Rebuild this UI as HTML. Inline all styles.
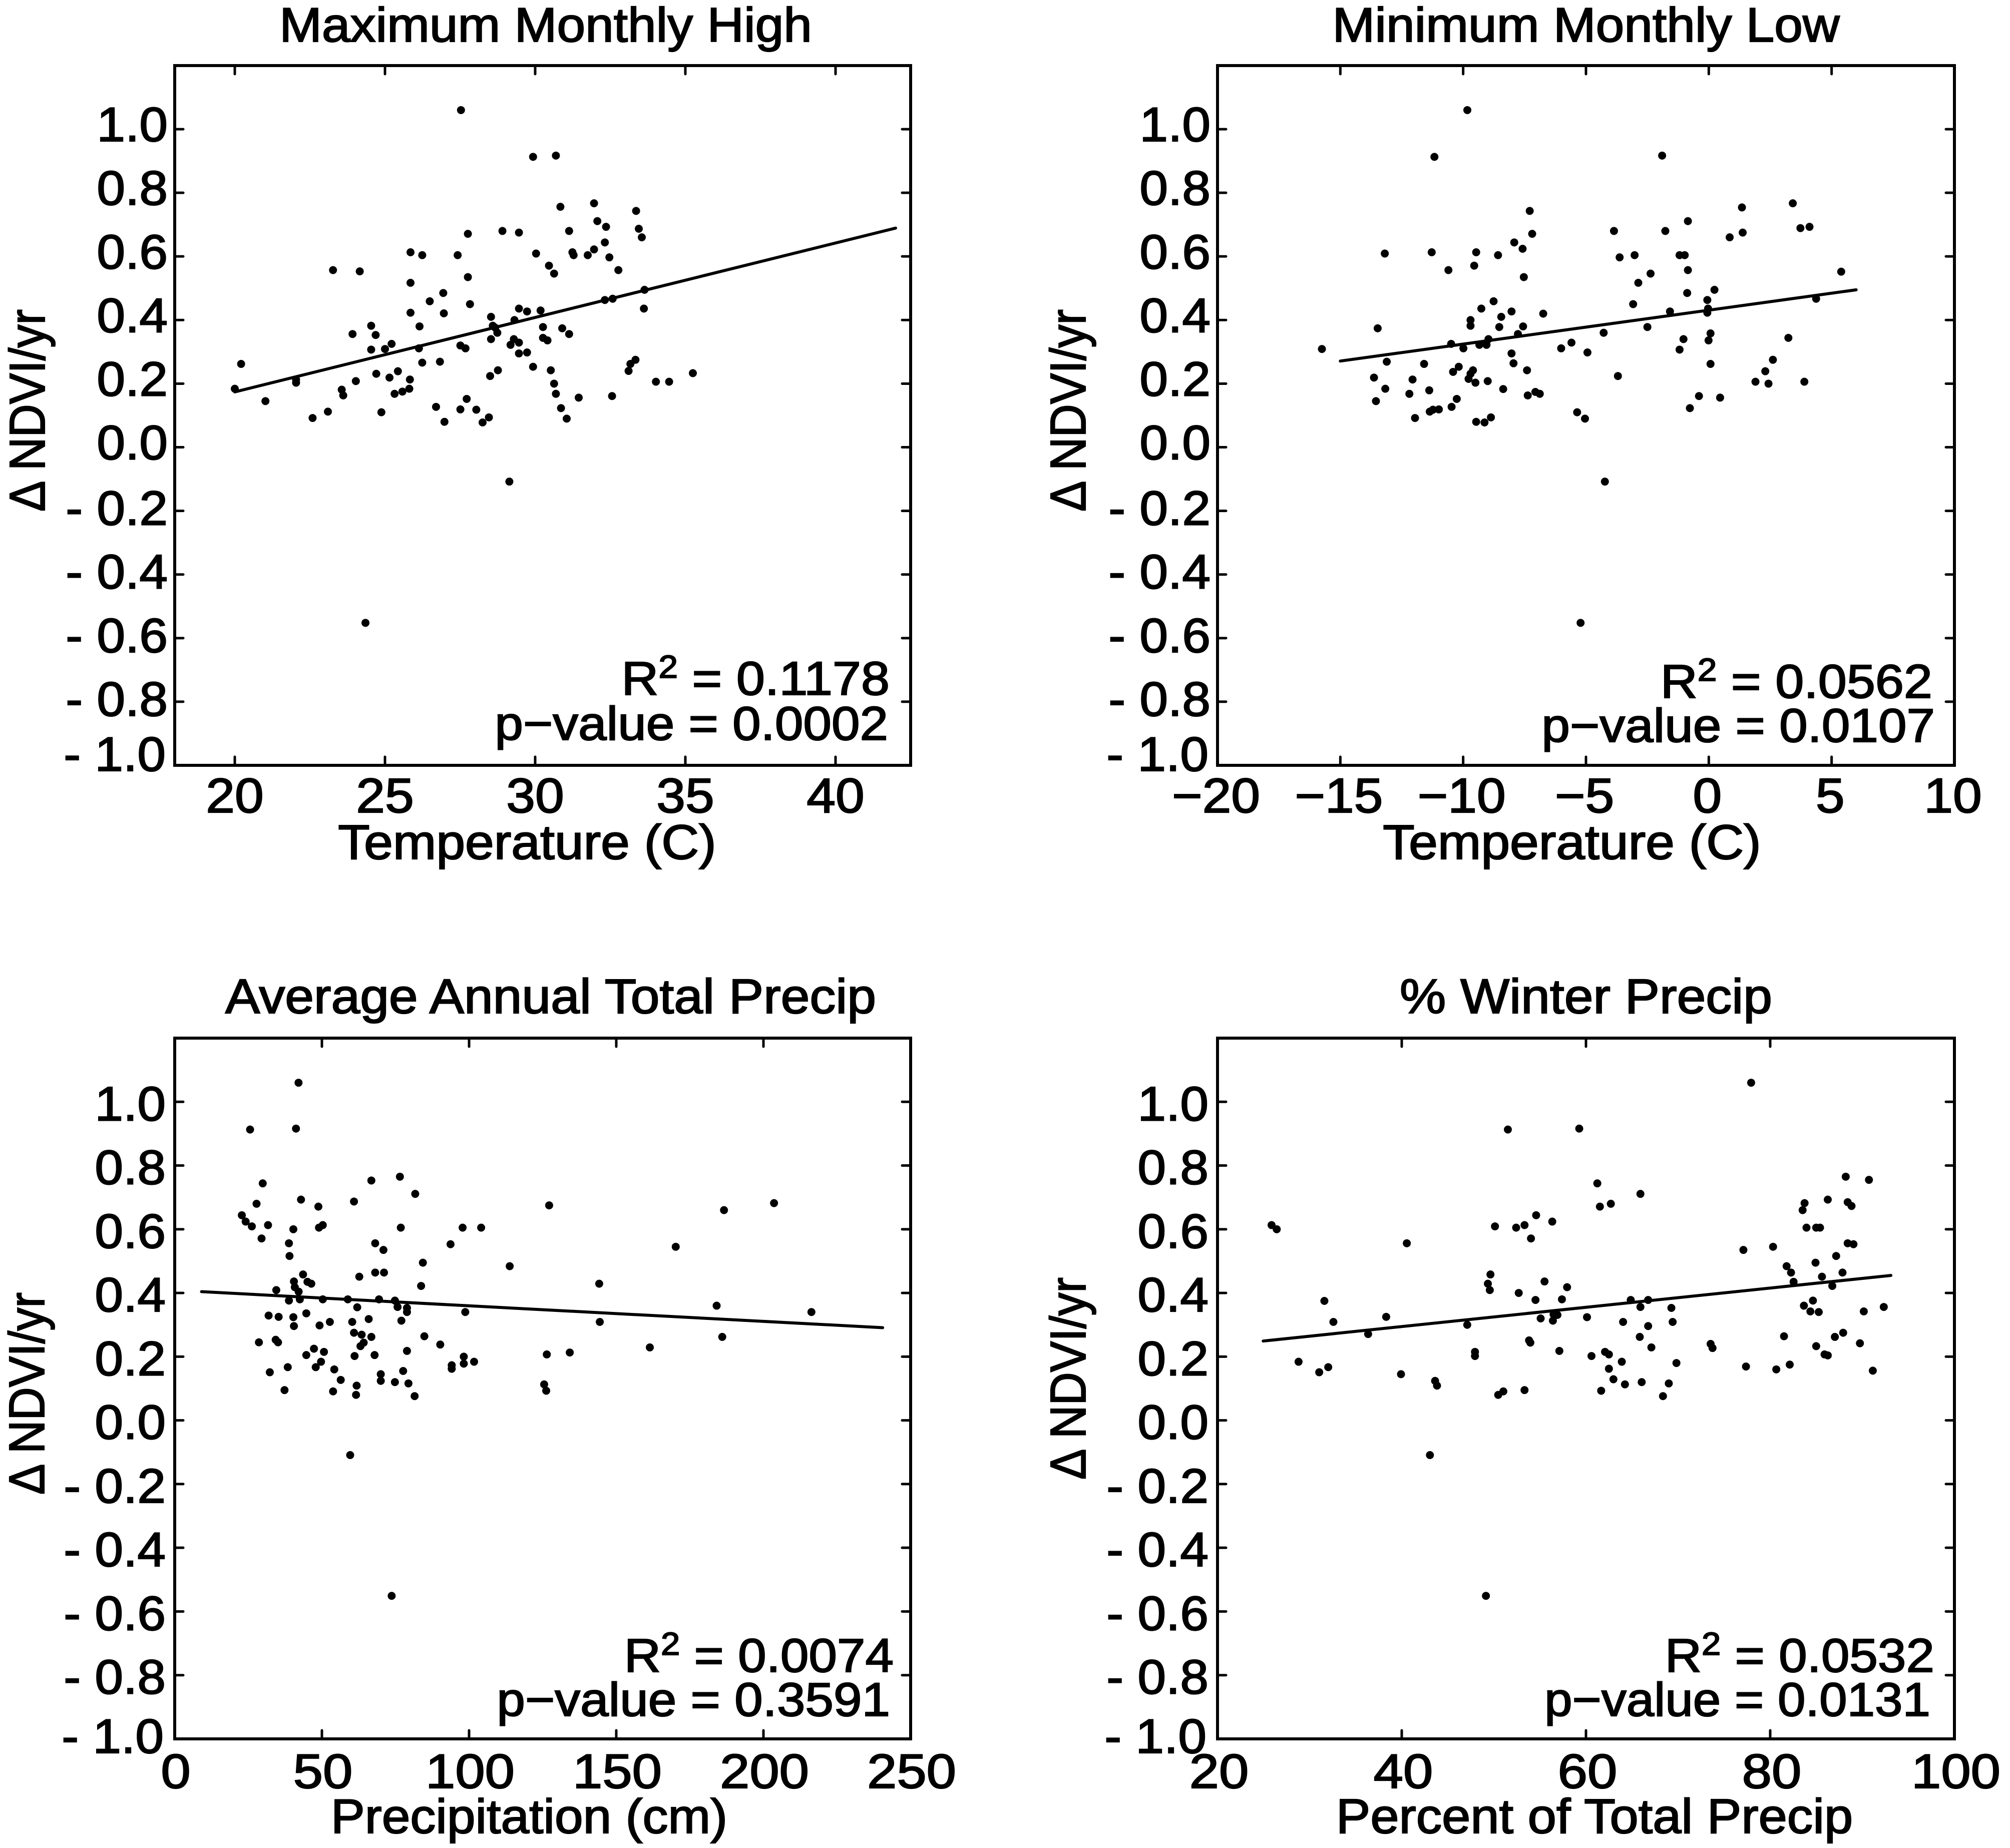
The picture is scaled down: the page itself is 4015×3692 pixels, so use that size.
<!DOCTYPE html>
<html lang="en">
<head>
<meta charset="utf-8">
<title>Change in NDVI versus climate variables</title>
<style>
html,body{margin:0;padding:0;background:#fff;}
svg{display:block;}
text{font-family:"Liberation Sans",Arial,sans-serif;fill:#000;stroke:#000;stroke-width:2.2px;}
</style>
</head>
<body>
<svg id="fig" xmlns="http://www.w3.org/2000/svg" width="4015" height="3692" viewBox="0 0 4015 3692">
<rect x="0" y="0" width="4015" height="3692" fill="#fff"/>

<text font-size="97" text-anchor="middle" transform="translate(1090,83) scale(1.05,1)">Maximum Monthly High</text>
<text font-size="97" text-anchor="middle" transform="translate(3168,83) scale(1.05,1)">Minimum Monthly Low</text>
<text font-size="97" text-anchor="middle" transform="translate(1100,2024) scale(1.07,1)">Average Annual Total Precip</text>
<text font-size="97" text-anchor="middle" transform="translate(3168,2024) scale(1.07,1)">% Winter Precip</text>

<text font-size="97" text-anchor="middle" transform="translate(1053,1716) scale(1.07,1)">Temperature (C)</text>
<text font-size="97" text-anchor="middle" transform="translate(3140,1716) scale(1.07,1)">Temperature (C)</text>
<text font-size="97" text-anchor="middle" transform="translate(1057,3662) scale(1.05,1)">Precipitation (cm)</text>
<text font-size="97" text-anchor="middle" transform="translate(3185,3662) scale(1.06,1)">Percent of Total Precip</text>

<text font-size="100" text-anchor="middle" transform="translate(89,820) rotate(-90) scale(0.92,1)">Δ NDVI/yr</text>
<text font-size="100" text-anchor="middle" transform="translate(2168,820) rotate(-90) scale(0.92,1)">Δ NDVI/yr</text>
<text font-size="100" text-anchor="middle" transform="translate(88,2784) rotate(-90) scale(0.92,1)">Δ NDVI/yr</text>
<text font-size="100" text-anchor="middle" transform="translate(2168,2754) rotate(-90) scale(0.92,1)">Δ NDVI/yr</text>

<text font-size="95" text-anchor="end" transform="translate(1777,1388) scale(1.08,1)">R<tspan font-size="64" dy="-34">2</tspan><tspan dy="34"> = 0.1178</tspan></text>
<text font-size="95" text-anchor="end" transform="translate(1774,1478) scale(1.07,1)">p−value = 0.0002</text>
<text font-size="95" text-anchor="end" transform="translate(3860,1394) scale(1.08,1)">R<tspan font-size="64" dy="-34">2</tspan><tspan dy="34"> = 0.0562</tspan></text>
<text font-size="95" text-anchor="end" transform="translate(3865,1482) scale(1.07,1)">p−value = 0.0107</text>
<text font-size="95" text-anchor="end" transform="translate(1785,3340) scale(1.07,1)">R<tspan font-size="64" dy="-34">2</tspan><tspan dy="34"> = 0.0074</tspan></text>
<text font-size="95" text-anchor="end" transform="translate(1778,3428) scale(1.07,1)">p−value = 0.3591</text>
<text font-size="95" text-anchor="end" transform="translate(3864,3340) scale(1.07,1)">R<tspan font-size="64" dy="-34">2</tspan><tspan dy="34"> = 0.0532</tspan></text>
<text font-size="95" text-anchor="end" transform="translate(3856,3428) scale(1.05,1)">p−value = 0.0131</text>
</svg>

<script>
var yTickValues = [1.0,0.8,0.6,0.4,0.2,0.0,-0.2,-0.4,-0.6,-0.8,-1.0];
var yTickLabels = ["1.0","0.8","0.6","0.4","0.2","0.0","- 0.2","- 0.4","- 0.6","- 0.8","- 1.0"];

var maxTempTicks = [20,25,30,35,40];
var maxTempTickLabels = ["20","25","30","35","40"];
var minTempTicks = [-20,-15,-10,-5,0,5,10];
var minTempTickLabels = ["−20","−15","−10","−5","0","5","10"];
var precipTicks = [0,50,100,150,200,250];
var precipTickLabels = ["0","50","100","150","200","250"];
var winterTicks = [20,40,60,80,100];
var winterTickLabels = ["20","40","60","80","100"];

var maxTempFitX = [20,42];
var maxTempFitY = [0.174,0.689];
var minTempFitX = [-15,6];
var minTempFitY = [0.271,0.495];
var precipFitX = [9.1,240.5];
var precipFitY = [0.404,0.291];
var winterFitX = [24.96,93.1];
var winterFitY = [0.249,0.455];

var maxTempX = [27.53,29.93,30.69,30.84,31.96,33.36,32.07,32.36,33.45,31.13,28.91,29.46,27.76,33.55,32.32,31.96,25.85,31.24,30.03,26.24,27.42,31.28,31.75,32.47,30.46,32.77,23.27,24.16,30.63,27.76,25.85,33.64,26.94,32.32,32.58,26.49,27.83,33.62,29.46,29.73,30.18,25.85,26.96,28.53,29.31,24.54,26.15,28.59,28.67,30.26,30.9,23.92,31.13,28.74,24.69,28.53,30.26,30.41,29.29,25.22,29.46,29.18,27.51,27.68,26.13,25.0,24.54,29.46,29.73,29.93,33.34,33.17,20.21,26.24,26.83,33.11,30.52,28.76,35.25,25.43,24.71,28.5,25.15,25.83,22.04,22.04,24.03,34.02,34.46,30.63,20.0,23.56,25.81,25.58,25.32,30.69,23.61,32.56,31.45,27.72,21.02,30.86,26.7,27.51,28.04,23.1,24.88,22.59,28.46,31.05,26.98,28.25,29.14,24.35];
var maxTempY = [1.06,.913,.917,.756,.767,.743,.711,.693,.687,.68,.68,.675,.671,.66,.644,.622,.613,.613,.609,.604,.604,.604,.604,.597,.571,.557,.557,.553,.546,.535,.517,.495,.485,.463,.467,.459,.45,.436,.436,.427,.43,.423,.421,.41,.40,.382,.38,.382,.376,.378,.374,.356,.356,.36,.353,.34,.344,.336,.34,.325,.329,.322,.32,.311,.311,.309,.307,.295,.298,.253,.275,.262,.262,.266,.269,.24,.242,.242,.233,.239,.231,.224,.219,.213,.213,.203,.208,.206,.206,.2,.184,.181,.184,.175,.168,.168,.163,.161,.156,.152,.145,.123,.127,.119,.118,.112,.11,.092,.094,.09,.08,.078,-.108,-.552];

var minTempX = [-9.83,-11.17,-1.9,-7.29,3.42,1.35,-.85,4.1,3.73,-3.86,-1.77,1.38,-7.19,.85,-7.92,-7.58,-13.19,-11.28,-9.47,-8.58,-3.02,-1.19,-.98,-3.63,-9.55,-10.6,-.85,5.39,-2.37,-7.53,-2.87,.23,-.88,4.37,-.06,-8.76,-3.08,-9.26,-.03,-8.03,-1.58,-.06,-6.74,-8.45,-9.7,-9.7,-13.48,-8.53,-7.56,-2.5,-4.28,-7.77,.07,-1.03,-.01,3.24,-8.97,-10.49,-5.59,-9.34,-9.05,-9.99,-6.01,-1.19,-15.75,-4.94,-8.03,2.61,-13.11,-11.59,-7.95,.07,-10.18,-7.4,-9.6,2.3,-10.41,-9.7,-3.7,-13.63,-9.78,-12.06,-9.0,1.9,3.89,-9.5,2.43,-8.37,-13.17,-11.38,-7.06,-12.19,-6.88,-7.37,-.4,.46,-10.26,-13.55,-.77,-10.47,-10.99,-11.23,-11.36,-5.36,-11.96,-5.04,-8.87,-9.47,-9.13,-4.23,-5.22];
var minTempY = [1.06,.913,.917,.743,.767,.754,.711,.693,.689,.68,.68,.675,.671,.66,.644,.624,.609,.613,.613,.604,.604,.604,.604,.597,.571,.557,.557,.552,.546,.535,.517,.495,.485,.467,.463,.459,.45,.436,.436,.427,.427,.423,.42,.41,.40,.382,.374,.378,.38,.378,.36,.356,.358,.34,.336,.344,.34,.325,.329,.322,.322,.311,.311,.307,.309,.298,.295,.275,.269,.262,.264,.262,.253,.242,.242,.239,.237,.231,.224,.219,.215,.213,.208,.206,.206,.203,.2,.183,.184,.179,.174,.168,.168,.163,.161,.156,.152,.145,.123,.127,.119,.118,.112,.11,.092,.09,.094,.08,.078,-.108,-.552];

var precipX = [42.06,25.6,41.2,29.9,76.5,66.8,81.7,42.9,60.9,27.8,127.2,203.6,48.8,186.6,22.8,24.1,26.2,31.7,50.3,49,40.3,76.8,97.8,104.1,29.5,38.8,68.1,93.7,170.2,70.9,39,84.3,113.8,43.6,68.1,71.1,62.7,40.5,45.1,46.4,144.2,40.8,83.7,34.5,42.1,42.5,38.8,50.3,58.8,69.4,74.8,184.1,75.7,62,78.9,78.9,98.7,216.3,44.7,31.9,35.3,40.3,65.9,77,52.7,60.3,144.4,49.2,40.5,60.9,63.5,84.8,186,66.8,34.3,35.1,28.6,64.2,63.1,90.2,161.4,47.3,50.7,78.9,134.2,126.4,44.7,61.1,67.9,98.2,101.7,98.2,49.7,94.1,94.1,47.9,38.4,54.2,77.6,32.3,70,56.4,70,74.8,79.4,125.5,61.8,37.3,53.8,126.2,61.6,81.5,59.6,73.7];
var precipY = [1.06,.913,.916,.744,.765,.753,.711,.693,.687,.68,.675,.682,.671,.66,.644,.624,.609,.613,.613,.605,.6,.605,.605,.605,.571,.556,.556,.553,.545,.535,.516,.495,.484,.458,.464,.464,.451,.436,.435,.429,.429,.418,.422,.409,.404,.38,.376,.38,.38,.38,.376,.36,.356,.355,.353,.34,.34,.34,.336,.329,.325,.324,.318,.313,.309,.309,.309,.298,.296,.275,.269,.264,.262,.262,.253,.245,.245,.244,.233,.238,.229,.225,.215,.218,.213,.207,.205,.202,.205,.2,.184,.178,.184,.173,.162,.167,.167,.16,.155,.151,.145,.127,.124,.12,.116,.113,.109,.095,.091,.093,.08,.076,-.109,-.551];

var winterX = [77.93,51.52,59.27,61.23,88.2,90.72,65.91,86.25,62.7,83.73,88.41,61.51,88.83,83.52,54.59,56.34,25.87,26.43,53.33,52.42,50.12,83.94,84.99,85.41,54.03,40.55,88.41,89.04,80.31,77.09,87.16,84.92,81.78,82.26,87.85,49.63,85.62,55.5,82.54,49.35,86.74,57.95,49.56,52.7,54.52,57.39,64.86,66.75,84.64,31.6,92.33,83.66,65.91,69.27,84.36,85.27,90.16,56.9,56.48,38.31,55.08,60.11,56.41,64.03,32.58,69.41,66.75,47.11,36.35,87.92,65.84,81.5,87.02,53.82,53.96,89.74,73.53,73.74,84.99,67.1,57.11,47.95,62.07,62.49,60.6,47.95,85.9,86.25,63.89,28.8,69.82,77.37,82.12,32.02,62.49,80.66,91.14,31.04,39.92,62.98,43.62,66.05,68.99,64.23,43.83,51.03,53.33,61.65,50.47,68.36,43.06,49.14];
var winterY = [1.06,.913,.916,.744,.765,.755,.711,.693,.68,.682,.685,.671,.673,.66,.644,.624,.613,.6,.613,.605,.609,.605,.605,.605,.571,.556,.556,.553,.545,.535,.516,.495,.484,.464,.464,.458,.451,.436,.435,.429,.422,.418,.409,.4,.378,.38,.378,.378,.376,.375,.356,.36,.356,.353,.342,.34,.342,.331,.333,.325,.32,.324,.313,.309,.309,.309,.296,.3,.271,.275,.262,.264,.262,.251,.244,.242,.24,.227,.233,.229,.218,.215,.215,.207,.202,.202,.207,.204,.184,.184,.18,.169,.175,.167,.162,.16,.156,.151,.145,.129,.124,.12,.116,.113,.109,.091,.095,.093,.08,.076,-.109,-.551];

var svg = document.getElementById('fig');
var NS = 'http://www.w3.org/2000/svg';
var dotRadius = 8;
var frameWidth = 6;
var tickLength = 17;

function scaleLinear(d0, d1, r0, r1) {
  return function (v) { return r0 + (v - d0) * (r1 - r0) / (d1 - d0); };
}
function make(tag, attrs) {
  var el = document.createElementNS(NS, tag);
  for (var k in attrs) { el.setAttribute(k, attrs[k]); }
  return el;
}
function drawPanel(p) {
  var sx = scaleLinear(p.xMin, p.xMax, p.left, p.right);
  var sy = scaleLinear(-1.0, 1.2, p.bottom, p.top);
  var g = make('g', {});
  
  
  svg.appendChild(g);

  yTickValues.forEach(function (v, i) {
    var y = sy(v);
    var a = make('line', {x1: p.left, x2: p.left + tickLength, y1: y, y2: y, stroke: '#000', 'stroke-width': 5, 'stroke-linecap': 'round'});
    
    
    g.appendChild(a);
    var b = make('line', {x1: p.right, x2: p.right - tickLength, y1: y, y2: y, stroke: '#000', 'stroke-width': 5, 'stroke-linecap': 'round'});
    
    
    g.appendChild(b);
    var dy = v > -0.05 ? p.labelPos : (v > -0.9 ? p.labelNeg : p.labelEnd);
    var t = make('text', {'font-size': 97, 'text-anchor': 'end', transform: 'translate(' + (p.left + p.yLabelGap - (v < -0.9 ? 4 : 0)) + ',' + (y + dy) + ') scale(1.05,1)'});
    
    
    t.setAttribute('xml:space', 'preserve');
    t.style.whiteSpace = 'pre';
    t.textContent = yTickLabels[i];
    g.appendChild(t);
  });

  p.ticks.forEach(function (v, i) {
    var x = sx(v);
    var a = make('line', {x1: x, x2: x, y1: p.bottom, y2: p.bottom - tickLength, stroke: '#000', 'stroke-width': 5, 'stroke-linecap': 'round'});
    
    
    g.appendChild(a);
    var b = make('line', {x1: x, x2: x, y1: p.top, y2: p.top + tickLength, stroke: '#000', 'stroke-width': 5, 'stroke-linecap': 'round'});
    
    
    g.appendChild(b);
    var t = make('text', {'font-size': 97, 'text-anchor': 'middle', transform: 'translate(' + (x + p.xLabelShift) + ',' + p.xLabelY + ') scale(' + p.xLabelStretch + ',1)'});
    
    
    t.textContent = p.tickLabels[i];
    g.appendChild(t);
  });

  var frame = make('rect', {x: p.left, y: p.top, width: p.right - p.left, height: p.bottom - p.top, fill: 'none', stroke: '#000', 'stroke-width': frameWidth});
  
  
  g.appendChild(frame);

  var fit = make('line', {x1: sx(p.fitX[0]), x2: sx(p.fitX[1]), y1: sy(p.fitY[0]), y2: sy(p.fitY[1]), stroke: '#000', 'stroke-width': 6, 'stroke-linecap': 'round'});
  
  
  g.appendChild(fit);

  p.xs.forEach(function (v, i) {
    var c = make('circle', {cx: sx(v), cy: sy(p.ys[i]), r: dotRadius, fill: '#000'});
    
    
    g.appendChild(c);
  });
}

drawPanel({name: 'max-monthly-high', left: 349, right: 1819, top: 131, bottom: 1529, xMin: 18, xMax: 42.5, ticks: maxTempTicks, tickLabels: maxTempTickLabels, xs: maxTempX, ys: maxTempY, fitX: maxTempFitX, fitY: maxTempFitY, yLabelGap: -14, labelPos: 24, labelNeg: 28, labelEnd: 11, xLabelY: 1623, xLabelShift: 0, xLabelStretch: 1.07});
drawPanel({name: 'min-monthly-low', left: 2432, right: 3904, top: 131, bottom: 1529, xMin: -20, xMax: 10, ticks: minTempTicks, tickLabels: minTempTickLabels, xs: minTempX, ys: minTempY, fitX: minTempFitX, fitY: minTempFitY, yLabelGap: -14, labelPos: 24, labelNeg: 28, labelEnd: 11, xLabelY: 1623, xLabelShift: -3, xLabelStretch: 1.07});
drawPanel({name: 'annual-total-precip', left: 349, right: 1819, top: 2074, bottom: 3474, xMin: 0, xMax: 250, ticks: precipTicks, tickLabels: precipTickLabels, xs: precipX, ys: precipY, fitX: precipFitX, fitY: precipFitY, yLabelGap: -18, labelPos: 37, labelNeg: 37, labelEnd: 28, xLabelY: 3572, xLabelShift: 2, xLabelStretch: 1.1});
drawPanel({name: 'winter-precip', left: 2432, right: 3904, top: 2074, bottom: 3474, xMin: 20, xMax: 100, ticks: winterTicks, tickLabels: winterTickLabels, xs: winterX, ys: winterY, fitX: winterFitX, fitY: winterFitY, yLabelGap: -18, labelPos: 37, labelNeg: 37, labelEnd: 28, xLabelY: 3572, xLabelShift: 3, xLabelStretch: 1.1});
</script>
</body>
</html>
